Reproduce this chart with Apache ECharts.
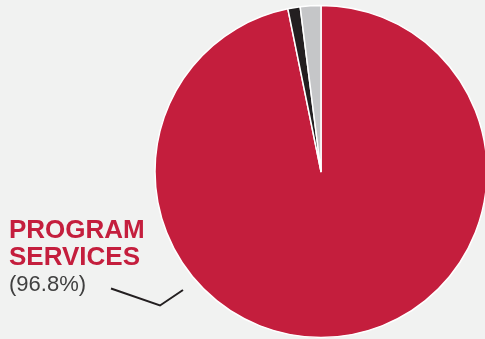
<!DOCTYPE html>
<html>
<head>
<meta charset="utf-8">
<script src="https://cdn.jsdelivr.net/npm/echarts@6/dist/echarts.min.js"></script>
<style>
html,body{margin:0;padding:0;background:#f1f2f1;}
#c{width:485px;height:339px;}
</style>
</head>
<body>
<div id="c"></div>
<script>
var categories = ['Program Services', 'Management & General', 'Fundraising'];
var values = [96.8, 1.2, 2.0];
var colors = ['#c41e3d', '#231f20', '#c5c6c8'];
var labelLines = ['PROGRAM', 'SERVICES'];
var pctLabel = '(96.8%)';

var chart = echarts.init(document.getElementById('c'), null, {renderer: 'canvas'});
var data = categories.map(function (c, i) {
  return {
    name: c,
    value: values[i],
    itemStyle: {color: colors[i]},
    label: {show: i === 0},
    labelLine: {show: i === 0}
  };
});
chart.setOption({
  backgroundColor: '#f1f2f1',
  animation: false,
  series: [{
    type: 'pie',
    center: [321, 171.5],
    radius: [0, 166],
    startAngle: 90,
    clockwise: true,
    silent: true,
    itemStyle: {borderColor: '#ffffff', borderWidth: 1.5},
    label: {
      position: 'outside',
      overflow: 'none',
      edgeDistance: 0,
      bleedMargin: 0,
      formatter: function () {
        return '{n|' + labelLines[0] + '}\n{n|' + labelLines[1] + '}\n{p|' + pctLabel + '}';
      },
      align: 'left',
      rich: {
        n: {fontFamily: 'Liberation Sans, Arial, sans-serif', fontSize: 26, fontWeight: 'bold', color: '#c41e3d', lineHeight: 27},
        p: {fontFamily: 'Liberation Sans, Arial, sans-serif', fontSize: 22, color: '#404040', lineHeight: 28}
      }
    },
    labelLine: {
      show: true,
      lineStyle: {color: '#231f20', width: 2}
    },
    labelLayout: function (params) {
      if (params.dataIndex !== 0) return {};
      return {
        x: 9,
        y: 217,
        align: 'left',
        verticalAlign: 'top',
        labelLinePoints: [[183, 290], [160, 305.5], [111, 288.5]]
      };
    },
    data: data
  }]
});
</script>
</body>
</html>
